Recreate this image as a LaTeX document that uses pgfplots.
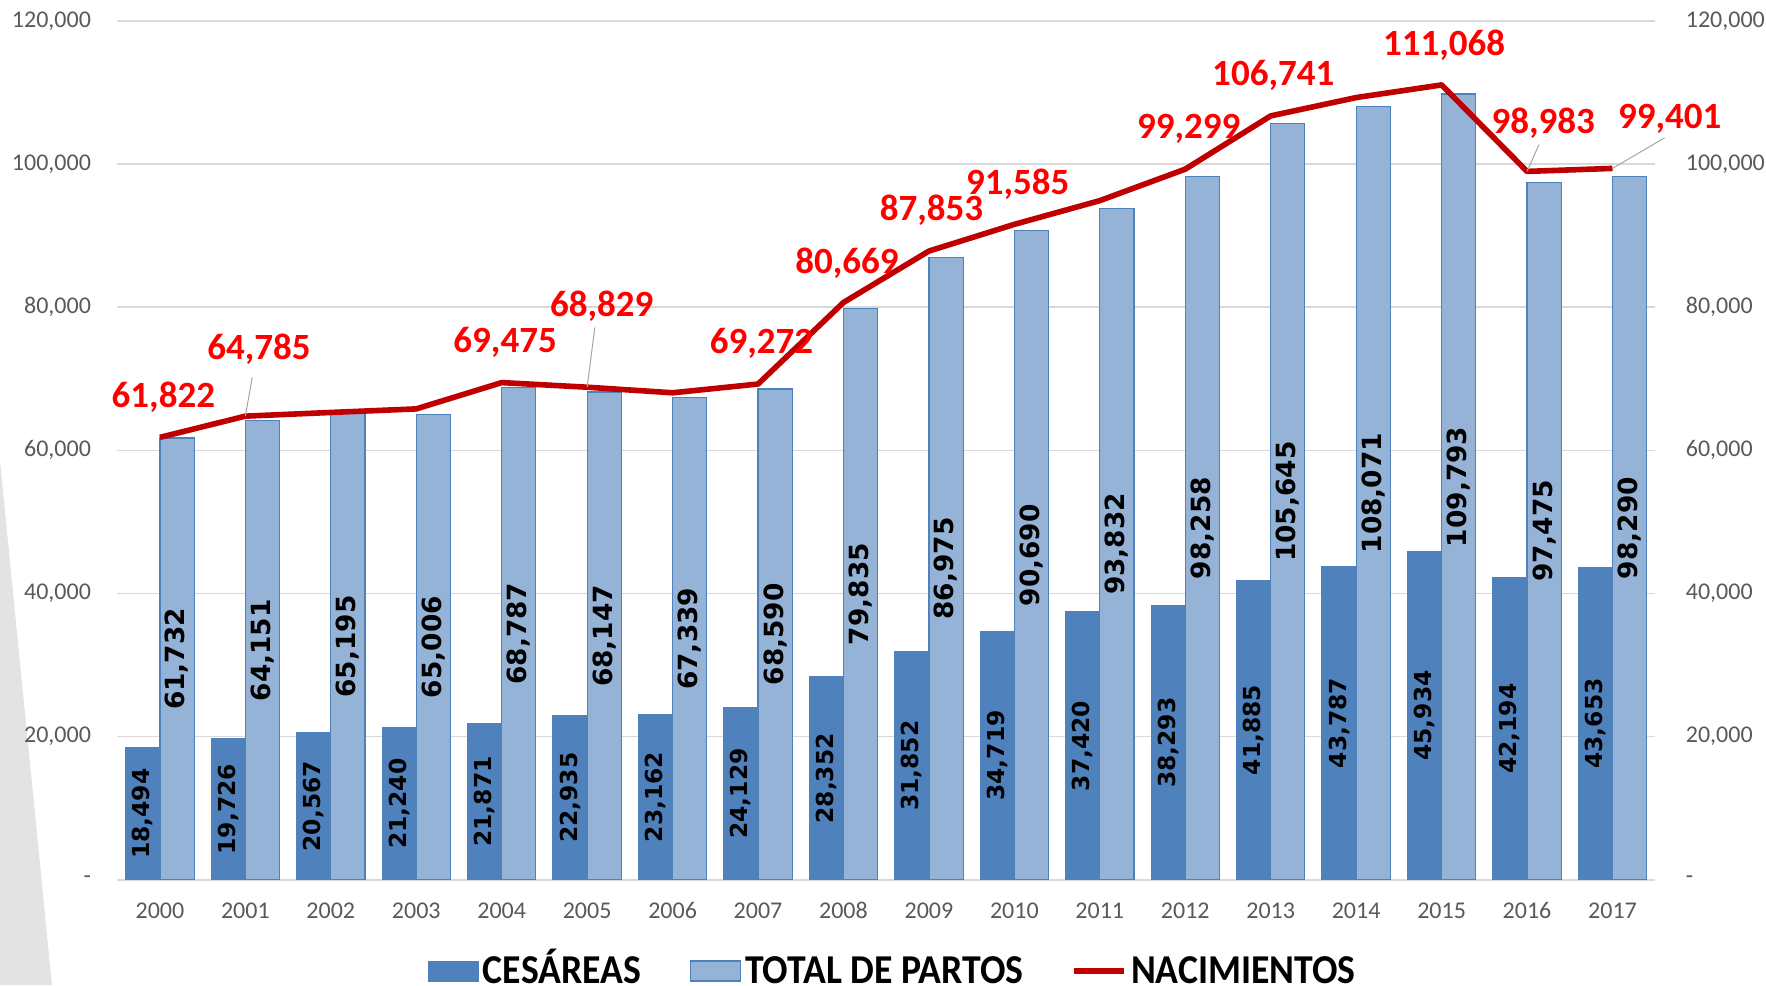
\documentclass[border=0pt]{standalone}
\usepackage{pgfplots}
\pgfplotsset{compat=1.18}
\usepackage{pgfplotstable}
\usepackage{graphicx}
\usepackage{fontspec}
\setmainfont{Carlito}
\newfontfamily\dvs{DejaVu Sans}
\definecolor{cdark}{HTML}{4F81BD}
\definecolor{clight}{HTML}{95B3D7}
\definecolor{cred}{HTML}{C00000}
\definecolor{lred}{HTML}{FF0000}
\definecolor{gridc}{HTML}{D9D9D9}
\definecolor{tickc}{HTML}{595959}

\pgfplotstableread{
x year ces tot nac
0 2000 18494 61732 61822
1 2001 19726 64151 64785
2 2002 20567 65195 65300
3 2003 21240 65006 65800
4 2004 21871 68787 69475
5 2005 22935 68147 68829
6 2006 23162 67339 68050
7 2007 24129 68590 69272
8 2008 28352 79835 80669
9 2009 31852 86975 87853
10 2010 34719 90690 91585
11 2011 37420 93832 94900
12 2012 38293 98258 99299
13 2013 41885 105645 106741
14 2014 43787 108071 109300
15 2015 45934 109793 111068
16 2016 42194 97475 98983
17 2017 43653 98290 99401
}\data

\pgfplotstableread{
lx ly txt
0.04 67400 61,822
1.16 74180 64,785
4.04 75130 69,475
5.17 80180 68,829
7.04 74970 69,272
8.04 86170 80,669
9.03 93580 87,853
10.04 97210 91,585
12.04 104940 99,299
13.03 112350 106,741
15.03 116610 111,068
16.19 105710 98,983
17.67 106340 99,401
}\nlabels

\begin{document}
\begin{tikzpicture}
\useasboundingbox (0,0) rectangle (883pt,492.5pt);
% decorative wedge on the left
\fill[gray!22] (0,262pt) -- (26pt,0) -- (0,0) -- cycle;
\begin{axis}[
  at={(58.6pt,52.6pt)}, anchor=south west,
  scale only axis, width=769pt, height=429.4pt,
  xmin=-0.5, xmax=17.5, ymin=0, ymax=120000,
  clip=false,
  axis line style={draw=none},
  major tick length=0pt,
  ymajorgrids, grid style={gridc, line width=0.8pt},
  ytick={0,20000,40000,60000,80000,100000,120000},
  yticklabels={{-\hspace{6.8pt}},{20,000},{40,000},{60,000},{80,000},{100,000},{120,000}},
  yticklabel style={font=\fontsize{12}{12}\selectfont, text=tickc, xshift=-9.6pt},
  xtick={0,...,17},
  xticklabels={2000,2001,2002,2003,2004,2005,2006,2007,2008,2009,2010,2011,2012,2013,2014,2015,2016,2017},
  xticklabel style={font=\fontsize{12}{12}\selectfont, text=tickc, yshift=-7.8pt},
  legend style={at={(0.505,-0.1065)}, anchor=center, draw=none, fill=none,
    font=\bfseries\fontsize{20.5}{20.5}\selectfont,
    /tikz/every even column/.append style={column sep=22pt}},
  legend columns=3,
  legend cell align=left,
]
\addlegendimage{legend image code/.code={\fill[cdark] (0pt,-5pt) rectangle (25pt,5pt);}}
\addlegendentry{\scalebox{0.92}[1]{CES\smash{Á}REAS}}
\addlegendimage{legend image code/.code={\draw[fill=clight, draw=cdark, line width=0.8pt] (0pt,-5pt) rectangle (25pt,5pt);}}
\addlegendentry{\scalebox{0.92}[1]{TOTAL DE PARTOS}}
\addlegendimage{legend image code/.code={\draw[cred, line width=2.8pt] (0pt,0pt) -- (25pt,0pt);}}
\addlegendentry{\scalebox{0.92}[1]{NACIMIENTOS}}

\addplot[ybar, bar width=0.4, bar shift=-0.2, fill=cdark, draw=cdark, line width=0.5pt, forget plot]
  table[x=x, y=ces] {\data};
\addplot[ybar, bar width=0.4, bar shift=0.2, fill=clight, draw=cdark, line width=0.6pt, forget plot]
  table[x=x, y=tot] {\data};

% bar value labels (centred in bars)
\addplot[draw=none, mark=none, forget plot, point meta=explicit,
  nodes near coords={\pgfmathprintnumber[fixed, precision=0, 1000 sep={,}, assume math mode=true]{\pgfplotspointmeta}},
  nodes near coords style={rotate=90, anchor=center, inner sep=0pt, text=black,
    font=\dvs\bfseries\fontsize{11.7}{11.7}\selectfont}]
  table[x expr=\thisrow{x}-0.2, y expr=\thisrow{ces}/2, meta=ces] {\data};
\addplot[draw=none, mark=none, forget plot, point meta=explicit,
  nodes near coords={\pgfmathprintnumber[fixed, precision=0, 1000 sep={,}, assume math mode=true]{\pgfplotspointmeta}},
  nodes near coords style={rotate=90, anchor=center, inner sep=0pt, text=black,
    font=\dvs\bfseries\fontsize{13.2}{13.2}\selectfont}]
  table[x expr=\thisrow{x}+0.2, y expr=\thisrow{tot}/2, meta=tot] {\data};

\addplot[cred, line width=2.8pt, mark=none, line join=round, forget plot]
  table[x=x, y=nac] {\data};

% leader lines
\draw[gray!70, line width=0.5pt] (axis cs:1.08,70200) -- (axis cs:1.0,64785);
\draw[gray!70, line width=0.5pt] (axis cs:5.09,77180) -- (axis cs:5.0,68829);
\draw[gray!70, line width=0.5pt] (axis cs:16.14,102730) -- (axis cs:16.0,98983);
\draw[gray!70, line width=0.5pt] (axis cs:17.61,103680) -- (axis cs:17.0,99401);

\addplot[draw=none, mark=none, forget plot, point meta=explicit symbolic,
  nodes near coords,
  nodes near coords style={anchor=center, inner sep=0pt, text=lred,
    font=\bfseries\fontsize{18.5}{18.5}\selectfont}]
  table[x=lx, y=ly, meta=txt] {\nlabels};
\end{axis}

\begin{axis}[
  at={(58.6pt,52.6pt)}, anchor=south west,
  scale only axis, width=769pt, height=429.4pt,
  xmin=-0.5, xmax=17.5, ymin=0, ymax=120000,
  axis y line*=right, axis x line=none,
  axis line style={draw=none},
  major tick length=0pt,
  ytick={0,20000,40000,60000,80000,100000,120000},
  yticklabels={{-},{20,000},{40,000},{60,000},{80,000},{100,000},{120,000}},
  yticklabel style={font=\fontsize{12}{12}\selectfont, text=tickc, xshift=11.8pt},
]
\addplot[draw=none, forget plot] coordinates {(0,0)};
\end{axis}
\end{tikzpicture}
\end{document}
